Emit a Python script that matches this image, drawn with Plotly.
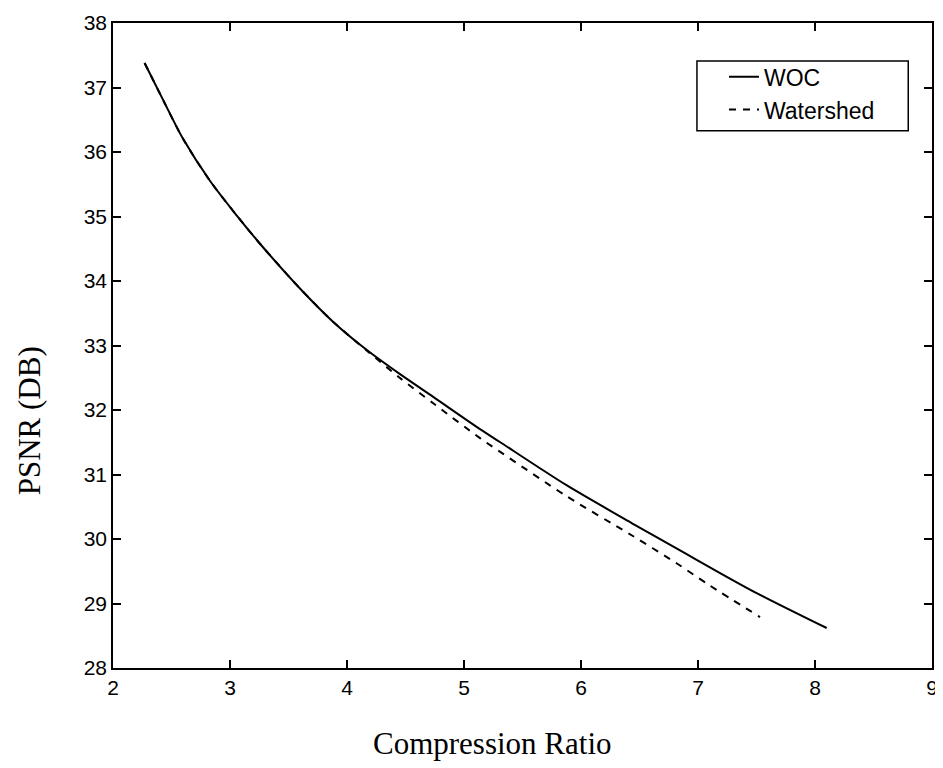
import plotly.graph_objects as go

woc_x = [2.27, 2.43, 2.60, 2.83, 3.06, 3.26, 3.60, 3.88, 4.17, 4.45, 4.74, 5.14, 5.31, 5.88, 6.44, 6.82, 7.44, 8.10]
woc_y = [37.38, 36.80, 36.20, 35.55, 35.01, 34.57, 33.88, 33.37, 32.93, 32.56, 32.20, 31.70, 31.50, 30.83, 30.24, 29.85, 29.22, 28.62]

ws_x = [2.27, 2.43, 2.60, 2.83, 3.06, 3.26, 3.60, 3.88, 4.17, 4.45, 4.74, 5.14, 5.31, 5.88, 6.44, 6.82, 7.10, 7.53]
ws_y = [37.38, 36.80, 36.20, 35.55, 35.01, 34.57, 33.88, 33.37, 32.92, 32.50, 32.10, 31.56, 31.35, 30.66, 30.05, 29.62, 29.28, 28.79]

x_ticks = [2, 3, 4, 5, 6, 7, 8, 9]
y_ticks = [28, 29, 30, 31, 32, 33, 34, 35, 36, 37, 38]

fig = go.Figure()
fig.add_trace(go.Scatter(x=woc_x, y=woc_y, mode="lines", name="WOC",
                         line=dict(color="black", width=2, shape="spline", smoothing=0.8)))
fig.add_trace(go.Scatter(x=ws_x, y=ws_y, mode="lines", name="Watershed",
                         line=dict(color="black", width=2, dash="7px,7px", shape="spline", smoothing=0.8)))

axis_common = dict(showgrid=False, zeroline=False, showline=True, linecolor="black",
                   linewidth=1.5, mirror="allticks", ticks="inside", ticklen=8,
                   tickwidth=1.5, tickcolor="black", automargin=False,
                   tickfont=dict(family="Liberation Sans, Arial", size=21, color="black"))

# page body has an 8px default margin, so the figure is sized to fit the window
fig.update_layout(
    width=935, height=760,
    margin=dict(l=105, r=11, t=15, b=100),
    paper_bgcolor="white", plot_bgcolor="white",
    xaxis=dict(range=[2, 9], tickvals=x_ticks, **axis_common),
    yaxis=dict(range=[28, 38], tickvals=y_ticks, **axis_common),
    showlegend=True,
    legend=dict(x=0.746, y=0.95, xanchor="left", yanchor="top",
                bgcolor="rgba(0,0,0,0)", borderwidth=0,
                font=dict(family="Liberation Sans, Arial", size=23, color="black"),
                tracegroupgap=0),
    shapes=[dict(type="rect", xref="paper", yref="paper", x0=0.713, x1=0.971,
                 y0=0.833, y1=0.941, line=dict(color="black", width=1.5),
                 fillcolor="rgba(0,0,0,0)", layer="above")],
    annotations=[
        dict(text="Compression Ratio", x=0.463, y=-0.087, xref="paper", yref="paper",
             xanchor="center", yanchor="top", showarrow=False,
             font=dict(family="Liberation Serif, Times New Roman", size=31, color="black")),
        dict(text="PSNR (DB)", x=-0.101, y=0.383, xref="paper", yref="paper",
             xanchor="center", yanchor="middle", showarrow=False, textangle=-90,
             font=dict(family="Liberation Serif, Times New Roman", size=31, color="black")),
    ],
)

fig.write_html("out.html")
